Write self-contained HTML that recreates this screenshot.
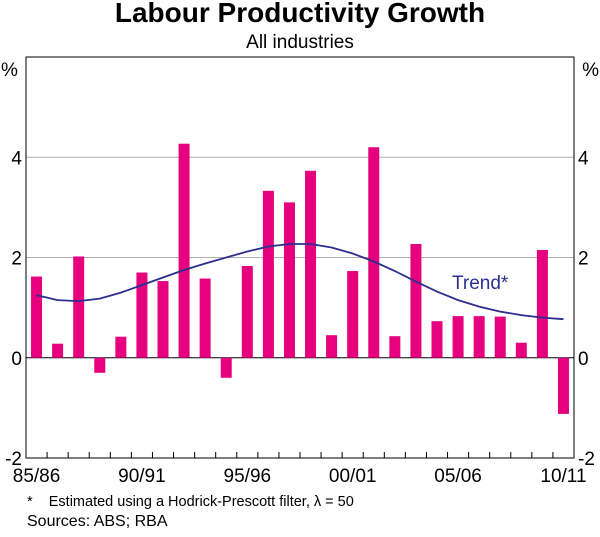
<!DOCTYPE html>
<html><head><meta charset="utf-8"><style>
body{margin:0;background:#fff;}
svg text{font-family:"Liberation Sans",Arial,sans-serif;fill:#000;}
</style></head><body>
<svg id="chart" width="600" height="532" viewBox="0 0 600 532">
<text x="300" y="22" text-anchor="middle" font-size="28" font-weight="bold">Labour Productivity Growth</text>
<text x="300" y="48" text-anchor="middle" font-size="19">All industries</text>
<text x="1" y="76" font-size="19">%</text>
<text x="599" y="76" text-anchor="end" font-size="19">%</text>
<g id="grid"></g><g id="bars"></g><g id="trend"></g><g id="axes"></g>
<text x="452" y="289" font-size="19" fill="#2b2f8f" style="fill:#2b2f8f">Trend*</text>
<text x="27" y="506" font-size="14.5">*&#160;&#160;&#160;&#160;Estimated using a Hodrick-Prescott filter, λ = 50</text>
<text x="27" y="526" font-size="16">Sources: ABS; RBA</text>
</svg>
<script>
const categories=["85/86","86/87","87/88","88/89","89/90","90/91","91/92","92/93","93/94","94/95","95/96","96/97","97/98","98/99","99/00","00/01","01/02","02/03","03/04","04/05","05/06","06/07","07/08","08/09","09/10","10/11"];
const growthValues=[1.62,0.28,2.02,-0.3,0.42,1.7,1.53,4.27,1.58,-0.4,1.83,3.33,3.1,3.73,0.45,1.73,4.2,0.43,2.27,0.73,0.83,0.83,0.82,0.3,2.15,-1.12];
const trendValues=[1.25,1.15,1.13,1.18,1.3,1.45,1.6,1.75,1.88,2.0,2.12,2.22,2.27,2.27,2.2,2.08,1.92,1.73,1.52,1.32,1.15,1.02,0.92,0.85,0.8,0.77];
const yTicks=[-2,0,2,4];
const xTickLabels=["85/86","90/91","95/96","00/01","05/06","10/11"];
const NS="http://www.w3.org/2000/svg";
const L=26,R=574,T=57,B=458,yMin=-2,yMax=6;
const slot=(R-L)/categories.length;
const x=i=>L+slot*(i+0.5);
const y=v=>B-(v-yMin)/(yMax-yMin)*(B-T);
function mk(tag,attrs,parent){const e=document.createElementNS(NS,tag);for(const k in attrs)e.setAttribute(k,attrs[k]);document.getElementById(parent).appendChild(e);return e;}
yTicks.forEach(t=>{
  if(t!==yMin){const g=mk('line',{x1:L,x2:R,y1:y(t),y2:y(t),stroke:t===0?'#000':'#b0b0b0','stroke-width':1},'grid');
  
  }
  const a=mk('text',{x:L-4,y:y(t)+7,'text-anchor':'end','font-size':19},'axes');a.textContent=t;
  
  
  const b=mk('text',{x:R+4,y:y(t)+7,'font-size':19},'axes');b.textContent=t;
  
  
});
growthValues.forEach((v,i)=>{
  const r=mk('rect',{x:x(i)-5.5,width:11,y:Math.min(y(v),y(0)),height:Math.abs(y(v)-y(0)),fill:'#e6007e'},'bars');
  
  
});
const p=mk('path',{d:trendValues.map((v,i)=>(i?'L':'M')+x(i).toFixed(1)+','+y(v).toFixed(1)).join(''),fill:'none',stroke:'#2b2f8f','stroke-width':1.8},'trend');


const fr=mk('rect',{x:L,y:T,width:R-L,height:B-T,fill:'none',stroke:'#000','stroke-width':1},'axes');


for(let i=1;i<categories.length;i++){const tk=mk('line',{x1:L+slot*i,x2:L+slot*i,y1:B,y2:B-6,stroke:'#000'},'axes');
  
  }
xTickLabels.forEach(lab=>{const i=categories.indexOf(lab);
  const t=mk('text',{x:x(i),y:B+24,'text-anchor':'middle','font-size':19},'axes');t.textContent=lab;
  
  });
</script>
</body></html>
